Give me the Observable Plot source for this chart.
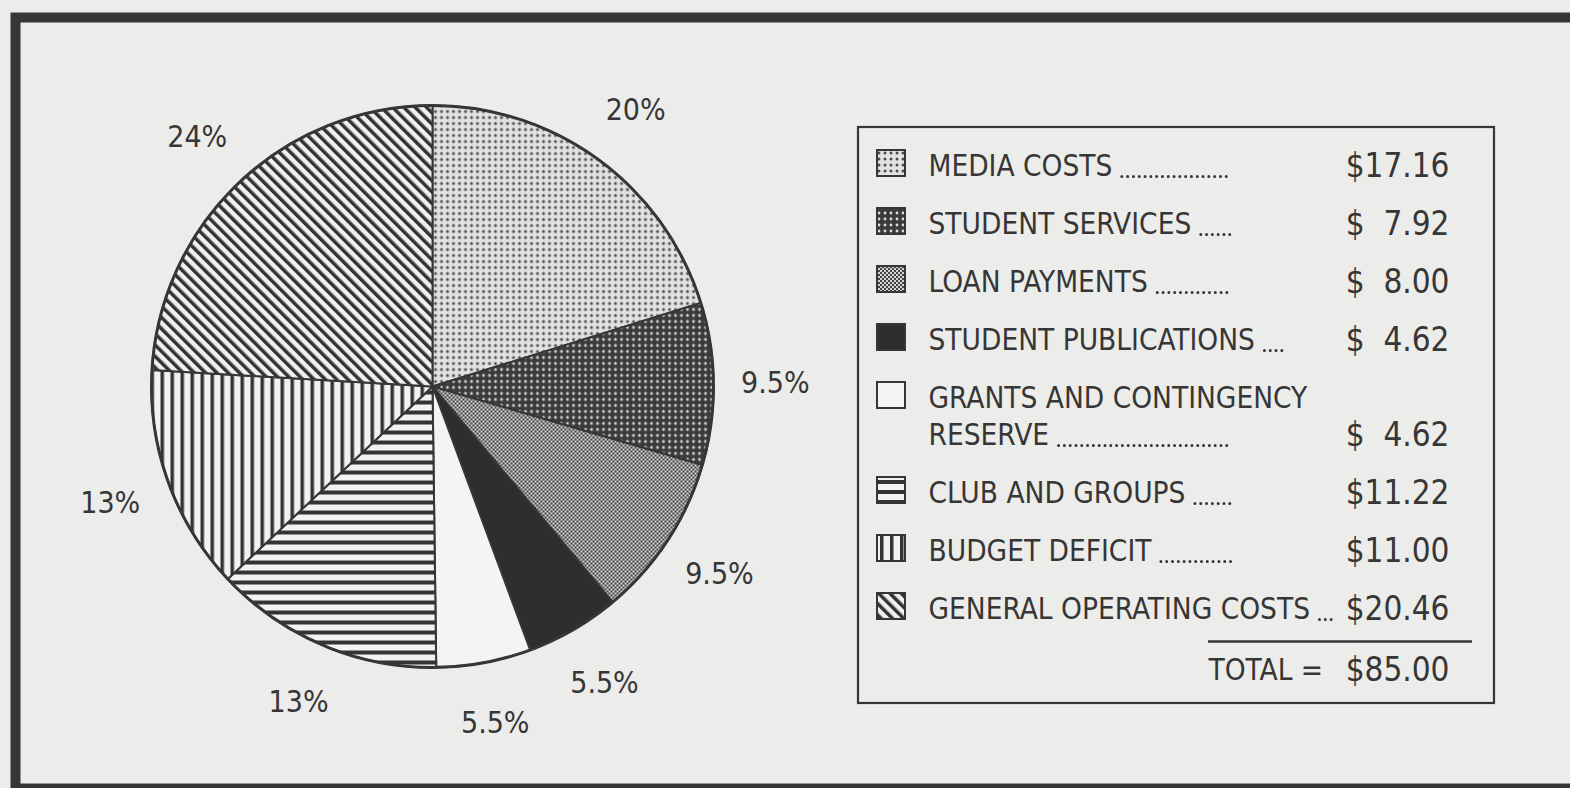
<!DOCTYPE html>
<html><head><meta charset="utf-8">
<script src="https://cdn.jsdelivr.net/npm/d3@7"></script>
<script src="https://cdn.jsdelivr.net/npm/@observablehq/plot@0.6"></script>
<style>
html,body{margin:0;padding:0;background:#ececea;overflow:hidden;}
#chart svg text{font-stretch:condensed;}
</style></head><body><div id="chart"></div>
<script>
// ---- data ----
const categories = ["MEDIA COSTS","STUDENT SERVICES","LOAN PAYMENTS","STUDENT PUBLICATIONS","GRANTS AND CONTINGENCY\nRESERVE","CLUB AND GROUPS","BUDGET DEFICIT","GENERAL OPERATING COSTS"];
const amounts = [17.16, 7.92, 8.00, 4.62, 4.62, 11.22, 11.00, 20.46];
const percentLabels = ["20%","9.5%","9.5%","5.5%","5.5%","13%","13%","24%"];
const patternKeys = ["media","services","loan","pubs","grants","clubs","budget","general"];
const totalLabel = "TOTAL =";

// ---- layout / style ----
const W = 1570, H = 788;
const ink = "#363636", paper = "#ececea";
const FONT = '"Liberation Sans Narrow","DejaVu Sans Condensed","DejaVu Sans",sans-serif';
const pie = {cx: 432, cy: 386, R: 281, labelR: 1.22};
const lg = {x1: 858, x2: 1494, y1: 127, y2: 703, swX: 877, swW: 28, swH: 26, labelX: 928, valueX: 1449,
            firstY: 166, rowStep: 58, lineStep: 37, leaderEnd: 1232, ruleX1: 1208, ruleX2: 1472, ruleY: 641, totalY: 670,
            fontSize: 29.5, valueSize: 33};

const fills = {
  media: "url(#p-media)", services: "url(#p-services)", loan: "url(#p-loan)", pubs: "#2e2e2e",
  grants: "#f4f4f2", clubs: "url(#p-clubs)", budget: "url(#p-budget)", general: "url(#p-general)"
};

// ---- pie geometry from data ----
const total = d3.sum(amounts);
let acc = 0;
const slices = amounts.map((v, i) => {
  const a0 = acc / total * 2 * Math.PI; acc += v;
  const a1 = acc / total * 2 * Math.PI;
  const pts = [{x: pie.cx, y: pie.cy}];
  const n = Math.max(2, Math.ceil((a1 - a0) / (Math.PI / 360)));
  for (let k = 0; k <= n; k++) {
    const a = a0 + (a1 - a0) * k / n;
    pts.push({x: pie.cx + pie.R * Math.sin(a), y: pie.cy - pie.R * Math.cos(a)});
  }
  const am = (a0 + a1) / 2;
  return {i, pts, fill: fills[patternKeys[i]],
    label: {x: pie.cx + pie.R * pie.labelR * Math.sin(am), y: pie.cy - pie.R * pie.labelR * Math.cos(am), text: percentLabels[i]}};
});

// ---- legend rows ----
const ctx = document.createElement("canvas").getContext("2d");
const fmt = v => v >= 10 ? "$" + v.toFixed(2) : "$\u2007" + v.toFixed(2);
const textRows = [], swatches = [], leaders = [], values = [];
let y = lg.firstY;
categories.forEach((c, i) => {
  const lines = c.split("\n");
  swatches.push({y: y - 3, fill: fills[patternKeys[i]]});
  lines.forEach((ln, j) => {
    textRows.push({x: lg.labelX, y, text: ln});
    if (j === lines.length - 1) {
      ctx.font = `condensed ${lg.fontSize}px ${FONT}`;
      const end = lg.labelX + ctx.measureText(ln).width;
      const vtext = fmt(amounts[i]);
      ctx.font = `condensed ${lg.valueSize}px ${FONT}`;
      const vstart = lg.valueX - ctx.measureText(vtext).width;
      const start = end + 10;
      leaders.push({x1: start, x2: Math.min(vstart - 12, Math.max(lg.leaderEnd, start + 22)), y: y + 10});
      values.push({y, text: vtext});
    } else y += lg.lineStep;
  });
  y += lg.rowStep;
});

const txt = {fill: ink, fontFamily: FONT};

const plot = Plot.plot({
  width: W, height: H, margin: 0,
  x: {domain: [0, W], range: [0, W], axis: null},
  y: {domain: [0, H], range: [0, H], axis: null},
  color: {type: "identity"},
  style: {background: paper, overflow: "hidden"},
  marks: [
    ...slices.map(s => Plot.line(s.pts, {x: "x", y: "y", fill: s.fill, stroke: ink, strokeWidth: 2, curve: "linear-closed"})),
    Plot.dot([pie], {x: "cx", y: "cy", r: pie.R, stroke: ink, strokeWidth: 3, fill: "none"}),
    Plot.text(slices.map(s => s.label), {x: "x", y: "y", text: "text", fontSize: 30, ...txt}),
    // legend box
    Plot.rect([lg], {x1: "x1", x2: "x2", y1: "y1", y2: "y2", fill: "none", stroke: ink, strokeWidth: 2.2}),
    Plot.rect(swatches, {x1: () => lg.swX, x2: () => lg.swX + lg.swW, y1: d => d.y - lg.swH / 2, y2: d => d.y + lg.swH / 2, fill: "fill", stroke: ink, strokeWidth: 2}),
    Plot.text(textRows, {x: "x", y: "y", text: "text", textAnchor: "start", fontSize: lg.fontSize, ...txt}),
    Plot.ruleY(leaders, {y: "y", x1: "x1", x2: "x2", stroke: ink, strokeWidth: 3, strokeDasharray: "0 5.8", strokeLinecap: "round"}),
    Plot.text(values, {x: () => lg.valueX, y: "y", text: "text", textAnchor: "end", fontSize: lg.valueSize, ...txt}),
    Plot.ruleY([lg], {y: "ruleY", x1: "ruleX1", x2: "ruleX2", stroke: ink, strokeWidth: 2.5}),
    Plot.text([lg], {x: "ruleX1", y: "totalY", text: () => totalLabel, textAnchor: "start", fontSize: lg.fontSize, ...txt}),
    Plot.text([lg], {x: "valueX", y: "totalY", text: () => "$" + total.toFixed(2), textAnchor: "end", fontSize: lg.valueSize, ...txt}),
    // outer frame
    Plot.frame({stroke: ink, strokeWidth: 10, insetTop: 17, insetLeft: 15, insetRight: -20, insetBottom: 0})
  ]
});

// ---- hatch patterns ----
const defs = d3.select(plot).insert("defs", ":first-child");
function pattern(id, w, h, transform) {
  const p = defs.append("pattern").attr("id", id).attr("patternUnits", "userSpaceOnUse").attr("width", w).attr("height", h);
  if (transform) p.attr("patternTransform", transform);
  return p;
}
let p = pattern("p-media", 6, 6);
p.append("rect").attr("width", 6).attr("height", 6).attr("fill", "#e2e2e0");
p.append("circle").attr("cx", 3).attr("cy", 3).attr("r", 1.5).attr("fill", "#4a4a4a");
p = pattern("p-services", 6, 6);
p.append("rect").attr("width", 6).attr("height", 6).attr("fill", "#3a3a3a");
p.append("circle").attr("cx", 3).attr("cy", 3).attr("r", 1.4).attr("fill", "#dcdcda");
p = pattern("p-loan", 4, 4);
p.append("rect").attr("width", 4).attr("height", 4).attr("fill", "#d2d2d0");
p.append("rect").attr("width", 2).attr("height", 2).attr("fill", "#444");
p.append("rect").attr("x", 2).attr("y", 2).attr("width", 2).attr("height", 2).attr("fill", "#444");
p = pattern("p-clubs", 10, 10);
p.append("rect").attr("width", 10).attr("height", 10).attr("fill", "#f2f2f0");
p.append("rect").attr("width", 10).attr("height", 4).attr("fill", "#333");
p = pattern("p-budget", 10, 10);
p.append("rect").attr("width", 10).attr("height", 10).attr("fill", "#f2f2f0");
p.append("rect").attr("width", 3.5).attr("height", 10).attr("fill", "#333");
p = pattern("p-general", 8, 8, "rotate(-45)");
p.append("rect").attr("width", 8).attr("height", 8).attr("fill", "#f0f0ee");
p.append("rect").attr("width", 3.5).attr("height", 8).attr("fill", "#333");

document.getElementById("chart").append(plot);
</script></body></html>
